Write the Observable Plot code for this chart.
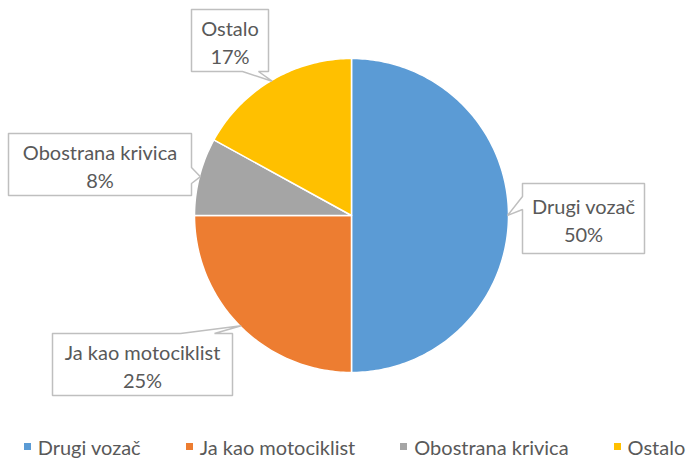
<!DOCTYPE html>
<html>
<head>
<meta charset="utf-8">
<script src="https://cdn.jsdelivr.net/npm/d3@7"></script>
<script src="https://cdn.jsdelivr.net/npm/@observablehq/plot@0.6"></script>
<style>
  html, body { margin: 0; padding: 0; background: #fff; }
  body { width: 693px; height: 461px; overflow: hidden; font-family: Lato, "Open Sans", sans-serif; }
  #legend { display: flex; justify-content: center; align-items: center; gap: 45px; height: 33px; font-size: 20px; color: #595959; margin-left: 16px; }
  #legend .item { display: flex; align-items: center; gap: 7px; white-space: nowrap; }
  #legend .sw { width: 7px; height: 7px; display: inline-block; }
</style>
</head>
<body>
<div id="chart"></div>
<div id="legend"></div>
<script>
// data
const categories = ["Drugi vozač", "Ja kao motociklist", "Obostrana krivica", "Ostalo"];
const shares = [50, 25, 8, 17];
const colors = ["#5B9BD5", "#ED7D31", "#A5A5A5", "#FFC000"];

// layout (pixels)
const W = 693, H = 430;
const cx = 351, cy = 215, R = 157;
// callout boxes: [x0, y0, x1, y1] and the tail base (two points on one edge)
const callouts = [
  {box: [522, 183, 644, 253], base: [[522, 196], [522, 209]]},
  {box: [52, 333, 232, 395], base: [[180, 333], [214, 333]]},
  {box: [8, 133, 191, 195], base: [[191, 167], [191, 183]]},
  {box: [191, 9, 268, 71], base: [[242, 71], [258, 71]]}
];

const pie = d3.pie().sort(null).value(d => d)(shares);
const pt = (deg, r) => {
  const a = deg * Math.PI / 180;
  return {x: cx + r * Math.sin(a), y: cy - r * Math.cos(a)};
};

const sliceMarks = pie.map((p, i) => {
  const a0 = p.startAngle * 180 / Math.PI, a1 = p.endAngle * 180 / Math.PI;
  const pts = [{x: cx, y: cy}];
  const n = Math.max(2, Math.ceil(a1 - a0));
  for (let k = 0; k <= n; k++) pts.push(pt(a0 + (a1 - a0) * k / n, R));
  pts.push({x: cx, y: cy});
  return Plot.line(pts, {x: "x", y: "y", fill: colors[i], stroke: "white", strokeWidth: 1.5, strokeLinejoin: "round"});
});

const calloutMarks = [];
const labels = [];
pie.forEach((p, i) => {
  const c = callouts[i];
  const mid = (p.startAngle + p.endAngle) / 2 * 180 / Math.PI;
  const [x0, y0, x1, y1] = c.box;
  const [b0, b1] = c.base;
  const tip = pt(mid, R - 1);
  let poly;
  if (b0[0] === x1) { // right edge
    poly = [[x0, y0], [x1, y0], b0, [tip.x, tip.y], b1, [x1, y1], [x0, y1], [x0, y0]];
  } else if (b0[0] === x0) { // left edge
    poly = [[x0, y0], [x1, y0], [x1, y1], [x0, y1], b1, [tip.x, tip.y], b0, [x0, y0]];
  } else if (b0[1] === y0) { // top edge
    poly = [[x0, y0], b0, [tip.x, tip.y], b1, [x1, y0], [x1, y1], [x0, y1], [x0, y0]];
  } else { // bottom edge
    poly = [[x0, y0], [x1, y0], [x1, y1], b1, [tip.x, tip.y], b0, [x0, y1], [x0, y0]];
  }
  calloutMarks.push(Plot.line(poly.map(([x, y]) => ({x, y})), {x: "x", y: "y", fill: "white", stroke: "#BFBFBF", strokeWidth: 1.5, strokeLinejoin: "miter"}));
  labels.push({x: (x0 + x1) / 2, y: (y0 + y1) / 2 + 1, text: `${categories[i]}\n${shares[i]}%`});
});

const chart = Plot.plot({
  width: W, height: H, margin: 0,
  x: {domain: [0, W], range: [0, W], axis: null},
  y: {domain: [0, H], range: [0, H], axis: null},
  style: {fontFamily: "Lato, 'Open Sans', sans-serif", background: "white"},
  marks: [
    ...sliceMarks,
    ...calloutMarks,
    Plot.text(labels, {x: "x", y: "y", text: "text", fontSize: 20, fill: "#595959", lineHeight: 1.4, textAnchor: "middle"})
  ]
});
document.getElementById("chart").append(chart);

const legend = document.getElementById("legend");
categories.forEach((c, i) => {
  const item = document.createElement("span");
  item.className = "item";
  const sw = document.createElement("span");
  sw.className = "sw";
  sw.style.background = colors[i];
  const t = document.createElement("span");
  t.textContent = c;
  item.append(sw, t);
  legend.append(item);
});
</script>
</body>
</html>
